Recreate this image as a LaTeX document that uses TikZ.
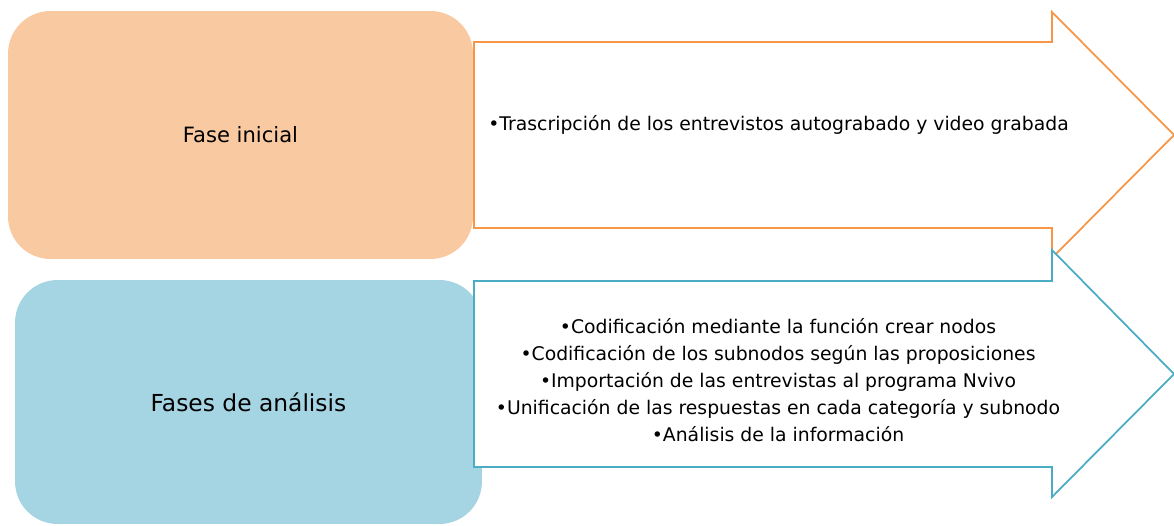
\documentclass[tikz,border=0pt]{standalone}
\usepackage{fontspec}
\setmainfont{DejaVu Sans}
\usepackage{tikz}

\definecolor{peach}{HTML}{F9C9A1}
\definecolor{naranja}{HTML}{F79646}
\definecolor{celeste}{HTML}{A5D5E2}
\definecolor{azul}{HTML}{4BACC6}

\tikzset{
  fase/.style={rounded corners=0.85cm, inner sep=0pt},
  flecha/.style={line width=1pt, fill=white}
}

\begin{document}
\begin{tikzpicture}[x=0.02cm,y=-0.02cm]
\useasboundingbox (0,0) rectangle (1174,525);

% fase inicial
\node[fase, fill=peach, minimum width=9.3cm, minimum height=4.96cm,
  font=\fontsize{12}{14}\selectfont] (inicial) at (240.5,135) {Fase inicial};
\draw[flecha, draw=naranja] (474,42) -- (1052,42) -- (1052,12) -- (1174,135)
  -- (1052,258) -- (1052,228) -- (474,228) -- cycle;
\node[right, inner sep=0pt, font=\fontsize{10.7}{14}\selectfont] (trascripcion) at (488,125)
  {•Trascripción de los entrevistos autograbado y video grabada};

% fases de analisis
\node[fase, fill=celeste, minimum width=9.34cm, minimum height=4.88cm,
  font=\fontsize{13.3}{16}\selectfont] (analisis) at (248.5,402) {Fases de análisis};
\draw[flecha, draw=azul] (474,281) -- (1052,281) -- (1052,250) -- (1174,374)
  -- (1052,497) -- (1052,467) -- (474,467) -- cycle;
\node[align=center, inner sep=0pt, font=\fontsize{10.7}{15.3}\selectfont] (pasos) at (778,380)
  {•Codificación mediante la función crear nodos\\
   •Codificación de los subnodos según las proposiciones\\
   •Importación de las entrevistas al programa Nvivo\\
   •Unificación de las respuestas en cada categoría y subnodo\\
   •Análisis de la información};
\end{tikzpicture}
\end{document}
